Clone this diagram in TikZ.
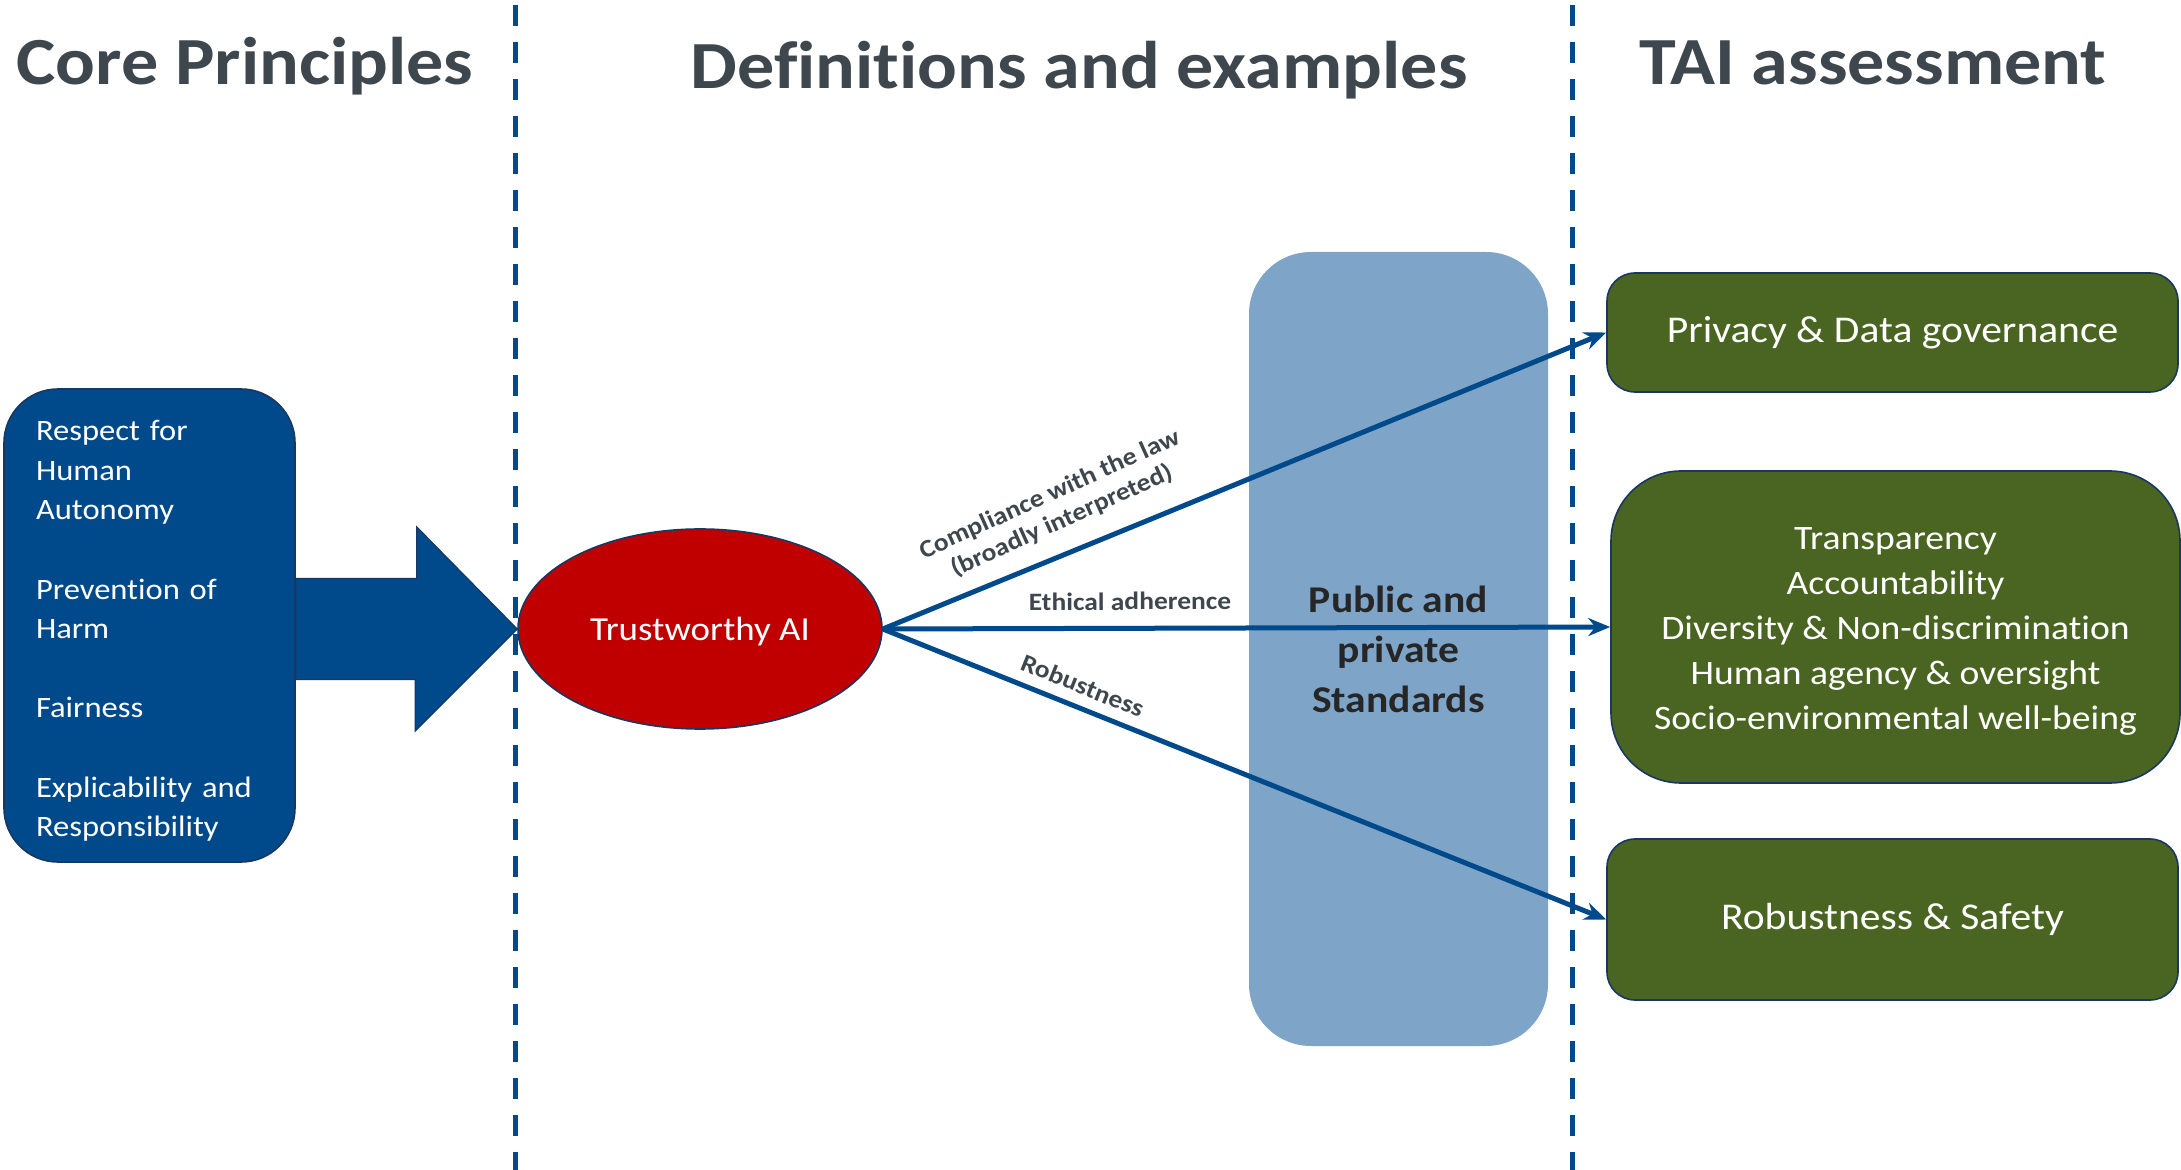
\documentclass[tikz,border=0pt]{standalone}
\usepackage{fontspec}
\setmainfont{Carlito}[FakeStretch=1.1, Ligatures=NoCommon]
\usetikzlibrary{arrows.meta,calc,shapes.geometric}
\definecolor{titlegray}{RGB}{62,70,78}
\definecolor{coreblue}{RGB}{0,74,139}
\definecolor{edgeblue}{RGB}{24,56,98}
\definecolor{trustred}{RGB}{192,0,0}
\definecolor{stdblue}{RGB}{126,165,200}
\definecolor{stdtext}{RGB}{38,38,38}
\definecolor{taigreen}{RGB}{73,101,33}

\begin{document}
\begin{tikzpicture}[x=0.5pt, y=-0.5pt, >={Stealth[length=11pt, width=9pt]},
    title/.style={font=\fontsize{33.7}{40}\selectfont\bfseries, text=titlegray, anchor=base},
    divider/.style={draw=coreblue, line width=2.5pt, dash pattern=on 10.5pt off 8pt},
    taibox/.style={draw=edgeblue, line width=0.8pt, fill=taigreen, rounded corners=14pt, text=white, align=center, font=\fontsize{18.9}{22.5}\selectfont},
    link/.style={->, draw=coreblue, line width=2.5pt},
    linklabel/.style={font=\fontsize{12.5}{14.5}\selectfont\bfseries, text=titlegray, sloped, align=center}]

    \useasboundingbox (0,0) rectangle (2181,1170);

    % Column titles.
    \node[title] (T-core) at (245,85) {Core Principles};
    \node[title] (T-def) at (1079,89) {Definitions and examples};
    \node[title] (T-tai) at (1873,85) {TAI assessment};

    % Standards.
    \node[fill=stdblue, rounded corners=31pt, minimum width=149.5pt, minimum height=397pt, inner sep=0pt,
          text=stdtext, align=center, font=\fontsize{18.9}{25}\selectfont\bfseries] (std) at (1398.5,649) {Public and\\private\\Standards};

    % Core principles.
    \node[fill=coreblue, draw=edgeblue, line width=0.8pt, rounded corners=27pt, minimum width=145.5pt, minimum height=236.5pt] (principles) at (149.5,625.5) {};
    \node[text width=113.5pt, align=left, text=white, font=\fontsize{14.8}{19.8}\selectfont] (principles-text) at ([yshift=-2.75pt]principles.center)
          {Respect for\\Human\\Autonomy\\[19.8pt]Prevention of\\Harm\\[19.8pt]Fairness\\[19.8pt]Explicability and\\Responsibility};

    % Trustworthy AI.
    \node[ellipse, fill=trustred, draw=edgeblue, line width=0.8pt, minimum width=182pt, minimum height=100pt, inner sep=0pt,
          text=white, text height=12pt, text depth=0pt, font=\fontsize{16.8}{20}\selectfont] (trust) at (700,629) {Trustworthy AI};

    % Big arrow.
    \coordinate (shaft) at (principles.east |- trust.west);
    \fill[coreblue, draw=edgeblue, line width=0.6pt] ($(shaft)+(0,-50.5)$) -- ++(121,0) -- ++(0,-51.5) -- (trust.west)
        -- ++(-102,102) -- ++(0,-51.5) -- ($(shaft)+(0,50.5)$) -- cycle;

    % TAI assessment.
    \node[taibox, minimum width=285.5pt, minimum height=59.5pt] (privacy) at (1892.5,332.5) {Privacy \& Data governance};
    \node[taibox, rounded corners=35pt, minimum width=284.5pt, minimum height=156pt] (ethics) at (1895.5,627) {};
    \node[text=white, align=center, font=\fontsize{17.1}{22.5}\selectfont] (ethics-text) at ([yshift=-2pt]ethics.center)
        {Transparency\\Accountability\\Diversity \& Non-discrimination\\Human agency \& oversight\\Socio-environmental well-being};
    \node[taibox, minimum width=285.5pt, minimum height=80.5pt] (robust) at (1892.5,919.5) {Robustness \& Safety};

    % Links.
    \draw[link] (trust.east) -- node[linklabel, pos=0.265, above=6pt, rotate=2] {Compliance with the law\\(broadly interpreted)} (privacy.west);
    \draw[link] (trust.east) -- node[linklabel, pos=0.34, above=4.5pt] {Ethical adherence} (ethics.west);
    \draw[link] (trust.east) -- node[linklabel, pos=0.265, above=2pt] {Robustness} (robust.west);

    % Column dividers.
    \foreach \x in {515,1572}
        \draw[divider] (\x,5) -- (\x,1170);

\end{tikzpicture}
\end{document}
